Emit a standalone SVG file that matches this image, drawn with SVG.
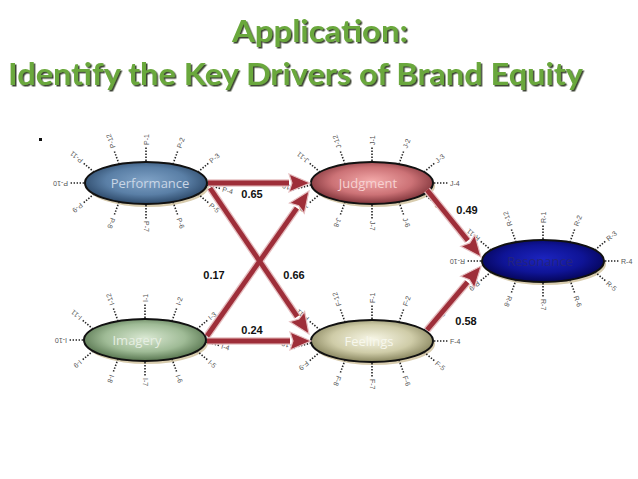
<svg xmlns="http://www.w3.org/2000/svg" xmlns:xlink="http://www.w3.org/1999/xlink" width="638" height="479" viewBox="0 0 638 479">
<style>
.title{font-family:Lato,"Open Sans","Liberation Sans",sans-serif;font-weight:bold;font-size:30px;fill:#6aa83c;filter:url(#tshadow)}
.node{stroke:#111;stroke-width:2}
.shadow{fill:#d8ccae}
.nlabel{font-family:"Open Sans","Liberation Sans",sans-serif;font-size:13px;text-anchor:middle}
.ray{stroke:#222;stroke-width:1.6;stroke-dasharray:1.4 1.6;fill:none}
.lbl{font-family:"Liberation Sans",sans-serif;font-size:7px;fill:#555;dominant-baseline:central}
.halo{stroke:#e6bfc1;stroke-width:7.5;fill:none;stroke-linecap:butt}
.conn{stroke:#9e2e39;stroke-width:4.8;fill:none;stroke-linecap:butt}
.num{font-family:"Liberation Sans",Arial,sans-serif;font-weight:bold;font-size:11px;fill:#111;text-anchor:middle}
</style>
<defs>
<filter id="tshadow" x="-5%" y="-20%" width="110%" height="150%">
<feDropShadow dx="1.5" dy="1.5" stdDeviation="0.6" flood-color="#25301a" flood-opacity="0.9"/>
</filter>
<radialGradient id="gP" cx="50%" cy="45%" r="55%"><stop offset="0" stop-color="#7fa2c6"/><stop offset="0.6" stop-color="#5a7fa6"/><stop offset="1" stop-color="#2c4868"/></radialGradient>
<radialGradient id="gI" cx="50%" cy="45%" r="55%"><stop offset="0" stop-color="#d9e8d2"/><stop offset="0.6" stop-color="#9fbb96"/><stop offset="1" stop-color="#56744e"/></radialGradient>
<radialGradient id="gJ" cx="50%" cy="45%" r="55%"><stop offset="0" stop-color="#f3a9a9"/><stop offset="0.6" stop-color="#cc7276"/><stop offset="1" stop-color="#7e3339"/></radialGradient>
<radialGradient id="gF" cx="50%" cy="45%" r="55%"><stop offset="0" stop-color="#f7f6e6"/><stop offset="0.6" stop-color="#cfcca8"/><stop offset="1" stop-color="#86835c"/></radialGradient>
<radialGradient id="gR" cx="50%" cy="45%" r="55%"><stop offset="0" stop-color="#1c24c0"/><stop offset="0.6" stop-color="#0f1496"/><stop offset="1" stop-color="#050558"/></radialGradient>
<marker id="head" markerUnits="userSpaceOnUse" viewBox="0 -10 23 20" markerWidth="23" markerHeight="20" refX="0" refY="0" orient="auto" overflow="visible">
<path d="M0,-9 L21,0 L0,9 L3,0 Z" fill="#9e2e39" stroke="#e6bfc1" stroke-width="1.2" stroke-linejoin="miter"/>
</marker>
<g id="rays">
<line class="ray" x1="0" y1="-22" x2="0" y2="-36"/>
<line class="ray" x1="27" y1="-19" x2="31.8" y2="-32.2"/>
<line class="ray" x1="52" y1="-11" x2="62.7" y2="-20"/>
<line class="ray" x1="52" y1="11" x2="62.7" y2="20"/>
<line class="ray" x1="27" y1="19" x2="31.8" y2="32.2"/>
<line class="ray" x1="0" y1="22" x2="0" y2="36"/>
<line class="ray" x1="-27" y1="19" x2="-31.8" y2="32.2"/>
<line class="ray" x1="-52" y1="11" x2="-62.7" y2="20"/>
<line class="ray" x1="-52" y1="-11" x2="-62.7" y2="-20"/>
<line class="ray" x1="-27" y1="-19" x2="-31.8" y2="-32.2"/>
</g>
</defs>
<rect width="638" height="479" fill="#ffffff"/>
<text class="title" x="320" y="42" text-anchor="middle" textLength="176" lengthAdjust="spacingAndGlyphs">Application:</text>
<text class="title" x="8" y="85" textLength="575" lengthAdjust="spacingAndGlyphs">Identify the Key Drivers of Brand Equity</text>
<rect x="39" y="138" width="3" height="3" fill="#111"/>

<g id="performance" transform="translate(146,183)">
<ellipse class="shadow" cx="2" cy="3" rx="61" ry="21"/>
<ellipse class="node" rx="61" ry="21" fill="url(#gP)"/>
<text class="nlabel" x="4" y="5" fill="#c9d6e6">Performance</text>
<use href="#rays"/>
<line class="ray" x1="61" y1="2" x2="74.5" y2="5.6"/>
<line class="ray" x1="-62" y1="0" x2="-76" y2="0"/>
<text class="lbl" transform="translate(0,-38) rotate(-90)">P-1</text>
<text class="lbl" transform="translate(32.8,-35) rotate(-70)">P-2</text>
<text class="lbl" transform="translate(64.2,-21.3) rotate(-40)">P-3</text>
<text class="lbl" transform="translate(76.5,6.1) rotate(15)">P-4</text>
<text class="lbl" transform="translate(64.2,21.3) rotate(40)">P-5</text>
<text class="lbl" transform="translate(32.8,35) rotate(70)">P-6</text>
<text class="lbl" transform="translate(0,38) rotate(90)">P-7</text>
<text class="lbl" transform="translate(-32.8,35) rotate(110)">P-8</text>
<text class="lbl" transform="translate(-64.2,21.3) rotate(140)">P-9</text>
<text class="lbl" transform="translate(-78,0) rotate(180)">P-10</text>
<text class="lbl" transform="translate(-64.2,-21.3) rotate(220)">P-11</text>
<text class="lbl" transform="translate(-32.8,-35) rotate(250)">P-12</text>
</g>

<g id="imagery" transform="translate(145,340)">
<ellipse class="shadow" cx="2" cy="3" rx="61" ry="21"/>
<ellipse class="node" rx="61" ry="21" fill="url(#gI)"/>
<text class="nlabel" x="-8" y="5" fill="#e6eee2">Imagery</text>
<use href="#rays"/>
<line class="ray" x1="61" y1="2" x2="74.5" y2="5.6"/>
<line class="ray" x1="-62" y1="0" x2="-76" y2="0"/>
<text class="lbl" transform="translate(0,-38) rotate(-90)">I-1</text>
<text class="lbl" transform="translate(32.8,-35) rotate(-70)">I-2</text>
<text class="lbl" transform="translate(64.2,-21.3) rotate(-40)">I-3</text>
<text class="lbl" transform="translate(76.5,6.1) rotate(15)">I-4</text>
<text class="lbl" transform="translate(64.2,21.3) rotate(40)">I-5</text>
<text class="lbl" transform="translate(32.8,35) rotate(70)">I-6</text>
<text class="lbl" transform="translate(0,38) rotate(90)">I-7</text>
<text class="lbl" transform="translate(-32.8,35) rotate(110)">I-8</text>
<text class="lbl" transform="translate(-64.2,21.3) rotate(140)">I-9</text>
<text class="lbl" transform="translate(-78,0) rotate(180)">I-10</text>
<text class="lbl" transform="translate(-64.2,-21.3) rotate(220)">I-11</text>
<text class="lbl" transform="translate(-32.8,-35) rotate(250)">I-12</text>
</g>

<g id="judgment" transform="translate(372,183)">
<ellipse class="shadow" cx="2" cy="3" rx="61" ry="21"/>
<ellipse class="node" rx="61" ry="21" fill="url(#gJ)"/>
<text class="nlabel" x="-4" y="5" fill="#f6d2d2">Judgment</text>
<use href="#rays"/>
<line class="ray" x1="62" y1="0" x2="76" y2="0"/>
<line class="ray" x1="-61" y1="2" x2="-74.5" y2="5.6"/>
<text class="lbl" transform="translate(0,-38) rotate(-90)">J-1</text>
<text class="lbl" transform="translate(32.8,-35) rotate(-70)">J-2</text>
<text class="lbl" transform="translate(64.2,-21.3) rotate(-40)">J-3</text>
<text class="lbl" transform="translate(78,0)">J-4</text>
<text class="lbl" transform="translate(64.2,21.3) rotate(40)">J-5</text>
<text class="lbl" transform="translate(32.8,35) rotate(70)">J-6</text>
<text class="lbl" transform="translate(0,38) rotate(90)">J-7</text>
<text class="lbl" transform="translate(-32.8,35) rotate(110)">J-8</text>
<text class="lbl" transform="translate(-64.2,21.3) rotate(140)">J-9</text>
<text class="lbl" transform="translate(-76.5,6.1) rotate(195)">J-10</text>
<text class="lbl" transform="translate(-64.2,-21.3) rotate(220)">J-11</text>
<text class="lbl" transform="translate(-32.8,-35) rotate(250)">J-12</text>
</g>

<g id="feelings" transform="translate(372,341)">
<ellipse class="shadow" cx="2" cy="3" rx="61" ry="21"/>
<ellipse class="node" rx="61" ry="21" fill="url(#gF)"/>
<text class="nlabel" x="-3" y="5" fill="#f7f7ec">Feelings</text>
<use href="#rays"/>
<line class="ray" x1="62" y1="0" x2="76" y2="0"/>
<line class="ray" x1="-61" y1="2" x2="-74.5" y2="5.6"/>
<text class="lbl" transform="translate(0,-38) rotate(-90)">F-1</text>
<text class="lbl" transform="translate(32.8,-35) rotate(-70)">F-2</text>
<text class="lbl" transform="translate(64.2,-21.3) rotate(-40)">F-3</text>
<text class="lbl" transform="translate(78,0)">F-4</text>
<text class="lbl" transform="translate(64.2,21.3) rotate(40)">F-5</text>
<text class="lbl" transform="translate(32.8,35) rotate(70)">F-6</text>
<text class="lbl" transform="translate(0,38) rotate(90)">F-7</text>
<text class="lbl" transform="translate(-32.8,35) rotate(110)">F-8</text>
<text class="lbl" transform="translate(-64.2,21.3) rotate(140)">F-9</text>
<text class="lbl" transform="translate(-76.5,6.1) rotate(195)">F-10</text>
<text class="lbl" transform="translate(-64.2,-21.3) rotate(220)">F-11</text>
<text class="lbl" transform="translate(-32.8,-35) rotate(250)">F-12</text>
</g>

<g id="resonance" transform="translate(543,261)">
<ellipse class="shadow" cx="2" cy="3" rx="61" ry="21"/>
<ellipse class="node" rx="61" ry="21" fill="url(#gR)"/>
<text class="nlabel" x="-3" y="5" fill="#23237e">Resonance</text>
<use href="#rays"/>
<line class="ray" x1="62" y1="0" x2="76" y2="0"/>
<line class="ray" x1="-62" y1="0" x2="-76" y2="0"/>
<text class="lbl" transform="translate(0,-38) rotate(-90)">R-1</text>
<text class="lbl" transform="translate(32.8,-35) rotate(-70)">R-2</text>
<text class="lbl" transform="translate(64.2,-21.3) rotate(-40)">R-3</text>
<text class="lbl" transform="translate(78,0)">R-4</text>
<text class="lbl" transform="translate(64.2,21.3) rotate(40)">R-5</text>
<text class="lbl" transform="translate(32.8,35) rotate(70)">R-6</text>
<text class="lbl" transform="translate(0,38) rotate(90)">R-7</text>
<text class="lbl" transform="translate(-32.8,35) rotate(110)">R-8</text>
<text class="lbl" transform="translate(-64.2,21.3) rotate(140)">R-9</text>
<text class="lbl" transform="translate(-78,0) rotate(180)">R-10</text>
<text class="lbl" transform="translate(-64.2,-21.3) rotate(220)">R-11</text>
<text class="lbl" transform="translate(-32.8,-35) rotate(250)">R-12</text>
</g>

<g id="connectors">
<path class="halo" d="M208,183 L289,183"/>
<path class="halo" d="M210,188 L297.2,316.6"/>
<path class="halo" d="M207,336 L296.9,208.2"/>
<path class="halo" d="M207,341 L290,341"/>
<path class="halo" d="M427,190 L467.8,240.6"/>
<path class="halo" d="M427,330 L467.5,282.1"/>
<path class="conn" d="M208,183 L289,183" marker-end="url(#head)"/>
<path class="conn" d="M210,188 L297.2,316.6" marker-end="url(#head)"/>
<path class="conn" d="M207,336 L296.9,208.2" marker-end="url(#head)"/>
<path class="conn" d="M207,341 L290,341" marker-end="url(#head)"/>
<path class="conn" d="M427,190 L467.8,240.6" marker-end="url(#head)"/>
<path class="conn" d="M427,330 L467.5,282.1" marker-end="url(#head)"/>
<text class="num" x="252" y="198">0.65</text>
<text class="num" x="214" y="279">0.17</text>
<text class="num" x="294" y="279">0.66</text>
<text class="num" x="252" y="334">0.24</text>
<text class="num" x="467" y="214">0.49</text>
<text class="num" x="466" y="325">0.58</text>
</g>
</svg>
